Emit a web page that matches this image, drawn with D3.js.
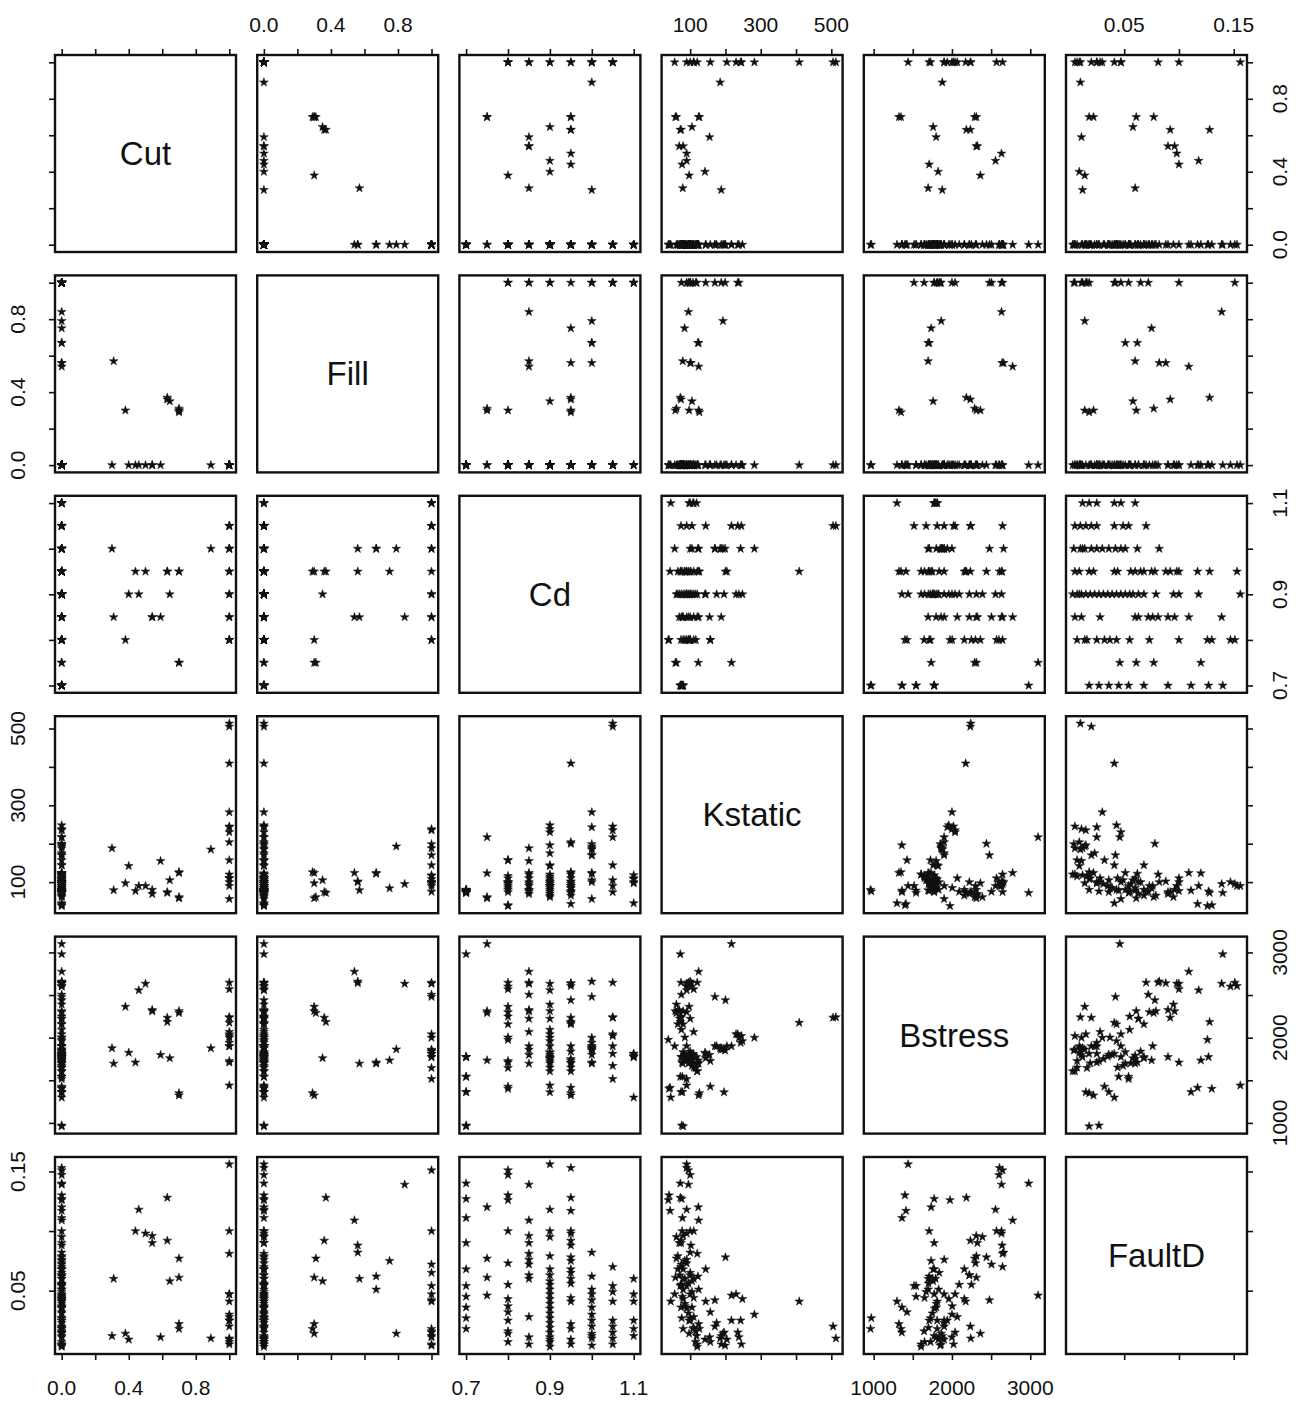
<!DOCTYPE html>
<html>
<head>
<meta charset="utf-8">
<script src="https://cdn.jsdelivr.net/npm/d3@7"></script>
<style>
  body { margin: 0; background: #fff; }
  text { font-family: "Liberation Sans", Arial, Helvetica, sans-serif; fill: #111; }
</style>
</head>
<body>
<svg id="chart" width="1296" height="1401"></svg>
<script>
// Variable names shown on the diagonal
const varNames = ["Cut", "Fill", "Cd", "Kstatic", "Bstress", "FaultD"];

// One entry per observation, same order in every array
const cut = [
  0.30, 0.31, 0.38, 0.40, 0.44, 0.46, 0.50, 0.54, 0.54, 0.59,
  0.63, 0.63, 0.645, 0.70, 0.70, 0.70, 0.70, 0.89, 0, 0,
  0, 0, 0, 0, 0, 0, 0, 0, 0, 0,
  0, 0, 1, 1, 1, 0, 0, 0, 0, 0,
  0, 1, 1, 0, 0, 0, 0, 1, 1, 1,
  0, 0, 0, 0, 0, 0, 0, 0, 0, 0,
  0, 1, 0, 0, 0, 0, 0, 0, 0, 0,
  0, 0, 0, 0, 0, 0, 0, 0, 1, 0,
  1, 0, 0, 0, 1, 1, 0, 0, 0, 1,
  0, 0, 0, 0, 0, 1, 0, 0, 0, 0,
  0, 0, 0, 0, 0, 0, 0, 0, 0, 0
];
const fill = [
  0, 0.57, 0.30, 0, 0, 0, 0, 0, 0, 0,
  0.36, 0.37, 0.35, 0.29, 0.30, 0.30, 0.31, 0, 0.54, 0.56,
  0.56, 0.67, 0.67, 0.75, 0.79, 0.84, 1, 1, 0, 0,
  1, 0, 0, 0, 0, 1, 0, 1, 0, 1,
  0, 0, 0, 1, 0, 1, 0, 0, 0, 0,
  0, 0, 0, 0, 0, 1, 0, 0, 0, 0,
  1, 0, 0, 0, 0, 0, 0, 0, 0, 0,
  0, 0, 0, 0, 0, 0, 0, 1, 0, 1,
  0, 0, 1, 0, 0, 0, 0, 0, 1, 0,
  0, 0, 0, 0, 0, 0, 0, 1, 0, 0,
  0, 0, 0, 0, 0, 0, 0, 0, 0, 0
];
const cd = [
  1.00, 0.85, 0.80, 0.90, 0.95, 0.90, 0.95, 0.85, 0.85, 0.85,
  0.95, 0.95, 0.90, 0.95, 0.95, 0.75, 0.75, 1.00, 0.85, 1.00,
  0.95, 1.00, 1.00, 0.95, 1.00, 0.85, 1.10, 1.10, 1.10, 1.10,
  1.10, 1.10, 1.05, 1.05, 1.05, 1.05, 1.05, 1.05, 1.05, 1.05,
  1.05, 1.00, 1.00, 1.00, 1.00, 1.00, 1.00, 1.00, 0.95, 0.95,
  0.95, 0.95, 0.95, 0.95, 0.95, 0.95, 0.95, 0.95, 0.95, 0.90,
  0.90, 0.90, 0.90, 0.90, 0.90, 0.90, 0.90, 0.90, 0.90, 0.90,
  0.90, 0.90, 0.90, 0.90, 0.90, 0.90, 0.90, 0.90, 0.90, 0.85,
  0.85, 0.85, 0.85, 0.85, 0.85, 0.80, 0.80, 0.80, 0.80, 0.80,
  0.80, 0.80, 0.80, 0.80, 0.80, 0.80, 0.80, 0.80, 0.75, 0.75,
  0.70, 0.70, 0.70, 0.70, 0.70, 0.70, 0.70, 0.70, 0.70, 0.70
];
const kstatic = [
  188, 79, 97, 142, 77, 90, 90, 69, 80, 155,
  74, 72, 105, 126, 124, 58, 61, 185, 124, 100,
  102, 124, 122, 84, 193, 95, 118, 108, 97, 45,
  100, 110, 513, 505, 245, 235, 217, 144, 105, 90,
  74, 282, 243, 199, 170, 170, 105, 56, 409, 204,
  43, 120, 110, 95, 85, 100, 65, 200, 90, 248,
  238, 230, 196, 175, 144, 120, 115, 110, 100, 95,
  90, 85, 80, 75, 70, 65, 61, 100, 90, 188,
  110, 100, 75, 90, 120, 157, 38, 40, 116, 100,
  157, 85, 80, 74, 90, 110, 100, 95, 217, 123,
  80, 76, 74, 78, 72, 80, 74, 78, 76, 72
];
const bstress = [
  1876, 1696, 2363, 1824, 1709, 2556, 2633, 2325, 2310, 1798,
  2235, 2184, 1760, 1349, 1323, 2312, 2290, 1876, 2775, 2659,
  2640, 1696, 1710, 1734, 1863, 2633, 1773, 1811, 1811, 1298,
  1773, 1790, 2240, 2235, 2020, 2040, 1900, 1811, 1670, 1516,
  2646, 2000, 1940, 1850, 1900, 2479, 1800, 1900, 2175, 1900,
  1413, 1606, 1650, 1700, 1750, 1837, 2158, 2440, 2607, 1960,
  2000, 2040, 1360, 1900, 1760, 1606, 1650, 1700, 1725, 1750,
  1780, 1800, 1830, 2093, 2222, 2312, 2389, 2633, 1440, 1860,
  2068, 2222, 2505, 1901, 2646, 1726, 1975, 1400, 1645, 1709,
  1426, 2003, 2158, 2248, 2300, 2569, 2600, 2646, 3100, 1734,
  960, 970, 1362, 1542, 1542, 1773, 1773, 1362, 1773, 2980
];
const faultD = [
  0.012, 0.060, 0.014, 0.009, 0.100, 0.118, 0.098, 0.090, 0.096, 0.011,
  0.092, 0.128, 0.058, 0.018, 0.022, 0.061, 0.077, 0.010, 0.109, 0.082,
  0.088, 0.051, 0.062, 0.075, 0.014, 0.139, 0.012, 0.018, 0.025, 0.041,
  0.047, 0.060, 0.010, 0.020, 0.005, 0.015, 0.025, 0.041, 0.049, 0.054,
  0.070, 0.030, 0.025, 0.004, 0.020, 0.042, 0.036, 0.047, 0.041, 0.009,
  0.117, 0.005, 0.044, 0.056, 0.060, 0.065, 0.068, 0.078, 0.153, 0.043,
  0.011, 0.047, 0.015, 0.023, 0.068, 0.003, 0.007, 0.019, 0.027, 0.031,
  0.035, 0.039, 0.051, 0.055, 0.063, 0.079, 0.095, 0.100, 0.156, 0.005,
  0.028, 0.063, 0.072, 0.076, 0.081, 0.007, 0.126, 0.130, 0.016, 0.025,
  0.032, 0.037, 0.043, 0.055, 0.073, 0.100, 0.147, 0.151, 0.046, 0.120,
  0.018, 0.027, 0.036, 0.045, 0.054, 0.068, 0.090, 0.111, 0.127, 0.140
];

// Tick positions and the subset that carries a printed label
const cutTicks  = [0, 0.2, 0.4, 0.6, 0.8, 1.0];
const cutLabels = [0, 0.4, 0.8];
const fillTicks  = [0, 0.2, 0.4, 0.6, 0.8, 1.0];
const fillLabels = [0, 0.4, 0.8];
const cdTicks  = [0.7, 0.8, 0.9, 1.0, 1.1];
const cdLabels = [0.7, 0.9, 1.1];
const kTicks  = [100, 200, 300, 400, 500];
const kLabels = [100, 300, 500];
const bTicks  = [1000, 1500, 2000, 2500, 3000];
const bLabels = [1000, 2000, 3000];
const fTicks  = [0.05, 0.10, 0.15];
const fLabels = [0.05, 0.15];

const columns = [cut, fill, cd, kstatic, bstress, faultD];
const ticksList = [cutTicks, fillTicks, cdTicks, kTicks, bTicks, fTicks];
const labelList = [cutLabels, fillLabels, cdLabels, kLabels, bLabels, fLabels];
const formats = [d3.format(".1f"), d3.format(".1f"), d3.format(".1f"),
                 d3.format("d"), d3.format("d"), d3.format(".2f")];

// Panel grid geometry
const W = 181, H = 197;
const colX = j => 55 + j * 202.2;
const rowY = i => 55 + i * 220.4;
const nVar = varNames.length;
const N = cut.length;

// Each axis covers the data range widened by 4% on both sides
function padded(values) {
  const [a, b] = d3.extent(values);
  const e = (b - a) * 0.04;
  return [a - e, b + e];
}
const xScales = columns.map((v, j) => d3.scaleLinear().domain(padded(v)).range([colX(j), colX(j) + W]));
const yScales = columns.map((v, i) => d3.scaleLinear().domain(padded(v)).range([rowY(i) + H, rowY(i)]));

const svg = d3.select("#chart");
const star = d3.symbol().type(d3.symbolStar).size(24);

// Scatter panels and diagonal labels
for (let i = 0; i < nVar; i++) {
  for (let j = 0; j < nVar; j++) {
    const g = svg.append("g");
    if (i === j) {
      g.append("text")
        .attr("x", colX(j) + W / 2)
        .attr("y", rowY(i) + H / 2)
        .attr("text-anchor", "middle")
        .attr("dominant-baseline", "central")
        .attr("font-size", 33)
        .text(varNames[i]);
    } else {
      g.selectAll("path")
        .data(d3.range(N))
        .join("path")
        .attr("d", star)
        .attr("fill", "#111")
        .attr("stroke", "#111")
        .attr("stroke-width", 0.5)
        .attr("transform", k => `translate(${xScales[j](columns[j][k])},${yScales[i](columns[i][k])})`);
    }
    g.append("rect")
      .attr("x", colX(j)).attr("y", rowY(i))
      .attr("width", W).attr("height", H)
      .attr("fill", "none").attr("stroke", "#111").attr("stroke-width", 2.4);
  }
}

// Tick marks on the outer edges of the matrix
function styleAxis(sel) {
  sel.select(".domain").remove();
  sel.selectAll(".tick line").attr("stroke", "#111").attr("stroke-width", 1.6);
}
for (let j = 0; j < nVar; j++) {
  svg.append("g").attr("transform", `translate(0,${rowY(0)})`)
    .call(d3.axisTop(xScales[j]).tickValues(ticksList[j]).tickSize(6).tickSizeOuter(0).tickFormat(""))
    .call(styleAxis);
  svg.append("g").attr("transform", `translate(0,${rowY(nVar - 1) + H})`)
    .call(d3.axisBottom(xScales[j]).tickValues(ticksList[j]).tickSize(6).tickSizeOuter(0).tickFormat(""))
    .call(styleAxis);
}
for (let i = 0; i < nVar; i++) {
  svg.append("g").attr("transform", `translate(${colX(0)},0)`)
    .call(d3.axisLeft(yScales[i]).tickValues(ticksList[i]).tickSize(6).tickSizeOuter(0).tickFormat(""))
    .call(styleAxis);
  svg.append("g").attr("transform", `translate(${colX(nVar - 1) + W},0)`)
    .call(d3.axisRight(yScales[i]).tickValues(ticksList[i]).tickSize(6).tickSizeOuter(0).tickFormat(""))
    .call(styleAxis);
}

// Tick labels alternate between opposite sides of the matrix
const labelSize = 21;
for (let j = 0; j < nVar; j++) {
  const atTop = j % 2 === 1;
  const y = atTop ? rowY(0) - 23 : rowY(nVar - 1) + H + 41;
  svg.append("g").selectAll("text")
    .data(labelList[j])
    .join("text")
    .attr("x", v => xScales[j](v))
    .attr("y", y)
    .attr("text-anchor", "middle")
    .attr("font-size", labelSize)
    .text(v => formats[j](v));
}
for (let i = 0; i < nVar; i++) {
  const atLeft = i % 2 === 1;
  const x = atLeft ? colX(0) - 30 : colX(nVar - 1) + W + 40;
  svg.append("g").selectAll("text")
    .data(labelList[i])
    .join("text")
    .attr("transform", v => `translate(${x},${yScales[i](v)}) rotate(-90)`)
    .attr("text-anchor", "middle")
    .attr("font-size", labelSize)
    .text(v => formats[i](v));
}
</script>
</body>
</html>
